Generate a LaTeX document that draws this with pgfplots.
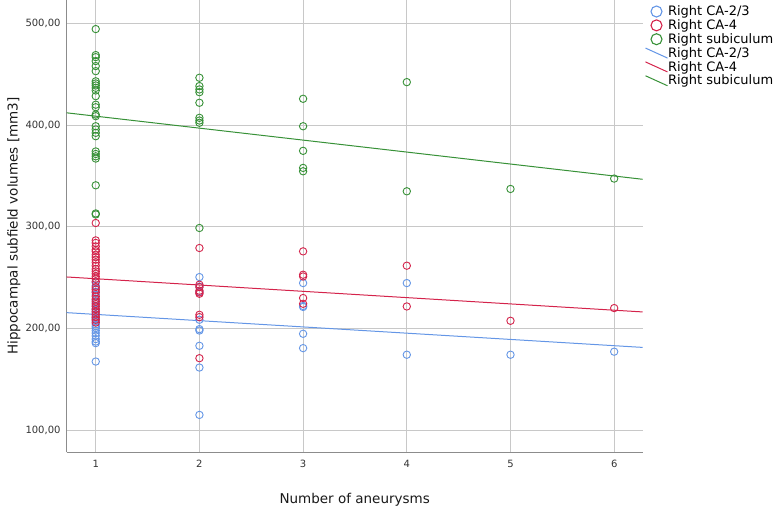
\documentclass[border=0pt]{standalone}
\usepackage{pgfplots}
\pgfplotsset{compat=1.18}
\usepackage{fontspec}
\setmainfont{DejaVu Sans}
\definecolor{cblue}{RGB}{100,150,230}
\definecolor{cred}{RGB}{212,35,75}
\definecolor{cgreen}{RGB}{55,145,55}
\definecolor{gridc}{RGB}{200,200,200}
\definecolor{axisc}{RGB}{140,140,140}

\pgfplotsset{
  scatleg/.style={legend image code/.code={\path[draw=none,fill=none] (0pt,-5pt) rectangle (22pt,5pt);
    \draw[##1, mark size=5.5pt, mark options={line width=1.1pt}] plot coordinates {(11pt,1pt)};}},
  lineleg/.style={legend image code/.code={\path[draw=none,fill=none] (0pt,-5pt) rectangle (22pt,5pt);
    \draw[##1] (0pt,6pt) -- (22pt,-4pt);}},
}

\pgfplotstableread{
x y
1 245
1 242
1 239
1 236
1 233
1 228
1 225
1 222
1 219
1 218
1 216
1 214
1 213
1 211
1 210
1 209
1 207
1 204
1 202
1 200.2
1 197.8
1 195.3
1 192.6
1 189.4
1 187
1 185.4
1 167.3
2 250.4
2 241
2 236
2 208.4
2 199.2
2 197.8
2 182.8
2 161.4
2 114.8
3 244.5
3 222
3 221
3 194.6
3 180.5
4 244.5
4 174
5 174
6 177
}\blue

\pgfplotstableread{
x y
1 303.6
1 286.5
1 284
1 280.6
1 277.3
1 275.7
1 272.4
1 270
1 267.5
1 264.8
1 261.6
1 258.3
1 256
1 253.7
1 251
1 248.8
1 246
1 240.6
1 238
1 235.3
1 231.3
1 228.8
1 226.4
1 223.8
1 221.5
1 218.9
1 216.3
1 213.6
1 211
1 208.4
1 205.7
2 279
2 242.9
2 240.6
2 237
2 235.3
2 234
2 213.3
2 211
2 170.6
3 275.7
3 252.7
3 251
3 229.8
3 224.1
4 261.6
4 221.5
5 207.4
6 219.9
}\red

\pgfplotstableread{
x y
1 494.4
1 468.8
1 466.8
1 462.9
1 458
1 453
1 443
1 440.9
1 438.9
1 436.6
1 434
1 428.4
1 420
1 417.5
1 410.3
1 408.7
1 398.8
1 395.6
1 392.3
1 389
1 374
1 371.5
1 369.2
1 367
1 340.7
1 313
1 312
2 446.5
2 438.3
2 435
2 432.3
2 421.9
2 407.1
2 404.4
2 402.2
2 298.7
3 425.8
3 398.8
3 374.6
3 357.8
3 354.5
4 442.2
4 334.8
5 337.1
6 347.3
}\green

\begin{document}
\begin{tikzpicture}[x=1pt,y=1pt]
\path[use as bounding box] (-66.7,-70.7) rectangle (711.3,452.3);
\begin{axis}[
  at={(0pt,0pt)}, anchor=south west,
  scale only axis, width=576pt, height=452.3pt,
  xmin=0.72, xmax=6.275, ymin=78, ymax=523,
  axis x line=bottom, axis y line=left,
  axis line style={-, draw=axisc, line width=1.4pt},
  xtick={1,2,3,4,5,6}, xticklabels={1,2,3,4,5,6},
  ytick={100,200,300,400,500},
  yticklabels={{100,00},{200,00},{300,00},{400,00},{500,00}},
  major tick length=0pt,
  grid=major, major grid style={draw=gridc, line width=0.7pt},
  tick label style={font=\fontsize{10}{12}\selectfont, text=black!80},
  yticklabel style={inner sep=0pt, xshift=-6pt},
  xticklabel style={inner sep=0pt, yshift=-8pt},
  xlabel={Number of aneurysms},
  ylabel={Hippocampal subfield volumes [mm3]},
  label style={font=\fontsize{13.5}{16}\selectfont, text=black!90},
  xlabel style={at={(axis description cs:0.5,-0.1055)}, anchor=center},
  ylabel style={at={(axis description cs:-0.0915,0.5)}, anchor=center},
  legend style={draw=none, fill=none, at={(axis description cs:1.004,0.9867)},
    anchor=north west, inner sep=0pt, outer sep=0pt,
    font=\fontsize{13}{15}\selectfont, row sep=1.2pt,
    nodes={inner sep=0pt, text height=9.3pt, text depth=3pt},
    /tikz/every even column/.append style={column sep=3pt}},
  legend cell align=left,
  clip=true,
]
\addplot[only marks, mark=o, mark size=3.7pt, color=cblue, mark options={line width=0.9pt}, scatleg]
  table {\blue};
\addlegendentry{Right CA-2/3}
\addplot[only marks, mark=o, mark size=3.7pt, color=cred, mark options={line width=0.9pt}, scatleg]
  table {\red};
\addlegendentry{Right CA-4}
\addplot[only marks, mark=o, mark size=3.7pt, color=cgreen, mark options={line width=0.9pt}, scatleg]
  table {\green};
\addlegendentry{Right subiculum}
\addplot[cblue, line width=1pt, lineleg]
  coordinates {(0.72,215.4) (6.275,181.2)};
\addlegendentry{Right CA-2/3}
\addplot[cred, line width=1pt, lineleg]
  coordinates {(0.72,250.5) (6.275,216.1)};
\addlegendentry{Right CA-4}
\addplot[cgreen, line width=1pt, lineleg]
  coordinates {(0.72,412.0) (6.275,346.6)};
\addlegendentry{Right subiculum}
\end{axis}
\end{tikzpicture}
\end{document}
